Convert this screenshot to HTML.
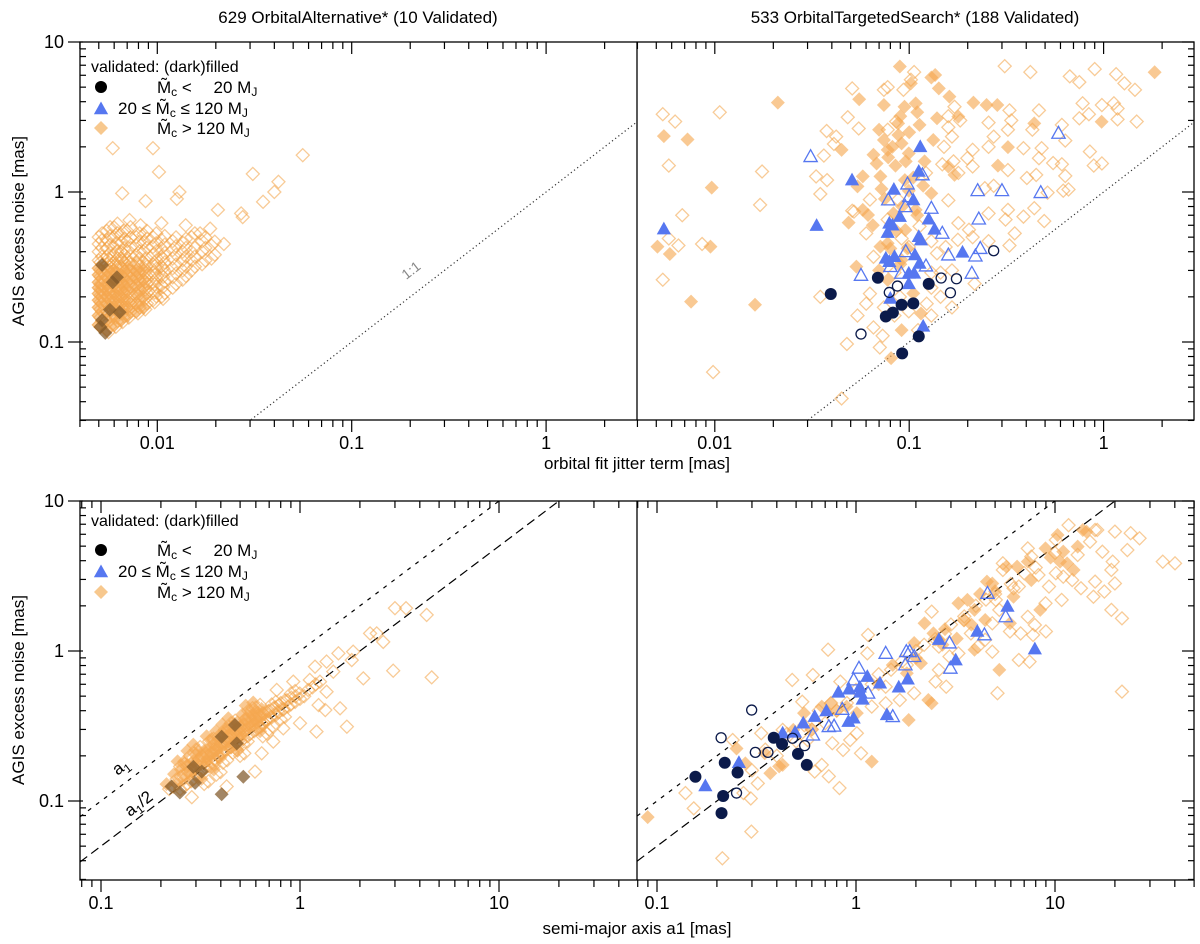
<!DOCTYPE html>
<html><head><meta charset="utf-8"><title>AGIS excess noise vs orbital parameters</title>
<style>
body{margin:0;background:#fff;}
svg{display:block;font-family:"Liberation Sans",Arial,sans-serif;}
</style></head>
<body>
<svg id="fig" width="1200" height="944" viewBox="0 0 1200 944" xmlns="http://www.w3.org/2000/svg">
<defs>
<clipPath id="clipTL"><rect x="80" y="42" width="557" height="378"/></clipPath>
<clipPath id="clipTR"><rect x="637" y="42" width="557" height="378"/></clipPath>
<clipPath id="clipBL"><rect x="80" y="501" width="557" height="379"/></clipPath>
<clipPath id="clipBR"><rect x="637" y="501" width="557" height="379"/></clipPath>
</defs>
<g id="axes"></g>
<g id="marks"></g>
<g id="texts">
<text x="358" y="23" font-size="17" text-anchor="middle">629 OrbitalAlternative* (10 Validated)</text>
<text x="915" y="23" font-size="17" text-anchor="middle">533 OrbitalTargetedSearch* (188 Validated)</text>
<text x="637" y="469" font-size="17" text-anchor="middle">orbital fit jitter term [mas]</text>
<text x="637" y="934" font-size="17" text-anchor="middle">semi-major axis a1 [mas]</text>
<text x="0" y="0" font-size="17" text-anchor="middle" transform="translate(24,231) rotate(-90)">AGIS excess noise  [mas]</text>
<text x="0" y="0" font-size="17" text-anchor="middle" transform="translate(24,690) rotate(-90)">AGIS excess noise  [mas]</text>
<text x="0" y="0" font-size="14" fill="#888" text-anchor="middle" transform="translate(414,274) rotate(-37.7)">1:1</text>
<text x="0" y="0" font-size="17" text-anchor="middle" transform="translate(124,771) rotate(-37)">a<tspan font-size="12" dy="4">1</tspan></text>
<text x="0" y="0" font-size="17" text-anchor="middle" transform="translate(142,808) rotate(-37)">a<tspan font-size="12" dy="4">1</tspan><tspan dy="-4">/2</tspan></text>
</g>
</svg>
<script>
// ---------------- DATA ----------------
const tlCloudX = [0.005,0.0055,0.006,0.0065,0.007,0.0078,0.0085,0.0095,0.0105,0.012,0.0135,0.015,0.017,0.019];
const tlCloudY = [
 [.13,.15,.17,.19,.21,.23,.25,.28,.31,.35,.40,.45,.50],
 [.12,.14,.16,.18,.20,.22,.24,.27,.30,.33,.37,.42,.48,.55],
 [.13,.15,.17,.19,.21,.24,.27,.30,.34,.38,.43,.50,.58],
 [.14,.16,.18,.20,.22,.25,.28,.32,.36,.40,.46,.52],
 [.15,.17,.19,.22,.25,.28,.31,.35,.40,.47,.55],
 [.16,.18,.21,.24,.27,.30,.34,.38,.44,.50],
 [.17,.20,.23,.26,.30,.34,.40,.46,.52],
 [.19,.22,.25,.29,.33,.38,.43,.50],
 [.20,.24,.28,.32,.37,.42,.48],
 [.23,.27,.31,.36,.41,.47],
 [.26,.30,.35,.40,.46],
 [.30,.35,.40,.50],
 [.33,.40,.47],
 [.36,.44]
];
const tlOpen = [[0.0059,1.96],[0.0095,1.96],[0.0102,1.36],[0.056,1.76],[0.031,1.32],[0.042,1.17],[0.04,1.0],[0.035,0.86],[0.013,1.0],[0.0126,0.9],[0.0066,0.98],[0.0087,0.87],[0.0205,0.76],[0.027,0.72],[0.0275,0.68],[0.022,0.45],[0.0187,0.57],[0.0166,0.53],[0.0072,0.65],[0.0105,0.62],[0.014,0.6],[0.0082,0.6]];
const tlDark = [[0.0052,0.326],[0.0062,0.27],[0.0059,0.25],[0.0057,0.164],[0.0064,0.158],[0.0052,0.14],[0.0051,0.126],[0.0054,0.115]];

const trCircleFilled = [[0.0395,0.209],[0.069,0.268],[0.0758,0.148],[0.0824,0.157],[0.0914,0.177],[0.105,0.181],[0.126,0.244],[0.112,0.109],[0.092,0.084]];
const trCircleOpen = [[0.0565,0.113],[0.079,0.214],[0.087,0.236],[0.146,0.267],[0.175,0.264],[0.163,0.213],[0.272,0.406]];
const trTriFilled = [[0.00547,0.566],[0.0334,0.597],[0.0508,1.2],[0.0834,1.04],[0.114,2.0],[0.112,1.37],[0.105,0.885],[0.079,0.618],[0.082,0.6],[0.0895,0.685],[0.126,0.658],[0.135,0.563],[0.112,0.503],[0.115,0.478],[0.0775,0.536],[0.0758,0.361],[0.084,0.37],[0.107,0.38],[0.113,0.334],[0.079,0.343],[0.0995,0.287],[0.106,0.287],[0.0995,0.244],[0.188,0.396],[0.118,0.127],[0.08,0.195]];
const trTriOpen = [[0.0311,1.72],[0.098,1.13],[0.1,0.93],[0.078,0.885],[0.0955,0.798],[0.13,0.778],[0.117,1.3],[0.225,1.02],[0.3,1.02],[0.475,0.99],[0.586,2.46],[0.228,0.66],[0.148,0.53],[0.159,0.38],[0.232,0.42],[0.219,0.374],[0.096,0.4],[0.122,0.321],[0.0565,0.278],[0.091,0.287],[0.21,0.287],[0.08,0.318]];
const trDiamFilled = [[0.00547,2.36],[0.00724,2.24],[0.0211,3.94],[0.00964,1.07],[0.00507,0.432],[0.00587,0.386],[0.0095,0.432],[0.00755,0.186],[0.0161,0.177],[1.83,6.28],[0.977,2.94],[0.322,1.99],[0.286,1.5],[0.214,3.94],[0.25,3.8],[0.284,3.8],[0.44,2.87],[0.0553,4.15],[0.0741,3.8],[0.0895,6.86],[0.136,6.03],[0.13,5.8],[0.142,4.91],[0.161,4.32],[0.179,3.18],[0.139,3.1],[0.102,5.3],[0.108,3.9],[0.0946,3.7],[0.113,2.8],[0.0877,2.87],[0.0741,2.22],[0.0914,2.11],[0.0995,1.81],[0.0775,1.91],[0.0655,1.77],[0.0711,1.27],[0.0577,1.27],[0.0542,1.09],[0.133,2.22],[0.171,1.3],[0.0449,1.91],[0.0488,0.625],[0.0577,0.76],[0.0614,0.703],[0.13,0.98],[0.108,0.76],[0.0775,0.455],[0.0955,0.558],[0.0914,0.352],[0.0711,0.432],[0.0535,0.318],[0.0914,0.12],[0.0807,0.078],[0.105,0.211],[0.115,0.155],[0.0775,0.259],[0.0995,1.02],[0.159,1.48],[0.085,1.5],[0.095,1.2],[0.075,0.9],[0.11,0.7],[0.065,0.6],[0.12,1.6],[0.1,2.5],[0.08,0.42],[0.09,0.33],[0.07,0.3],[0.082,2.0],[0.068,1.55],[0.092,0.8],[0.118,1.1],[0.078,1.7],[0.088,2.4],[0.072,1.05],[0.096,1.6],[0.105,1.25],[0.083,0.72],[0.09,3.2],[0.11,3.4],[0.07,2.6],[0.086,0.55],[0.098,0.42]];
const trDiamOpen = [[0.0054,3.3],[0.00625,2.95],[0.0106,3.4],[0.0058,1.5],[0.0175,1.37],[0.0171,0.82],[0.0068,0.70],[0.0058,0.49],[0.0065,0.44],[0.0086,0.45],[0.0054,0.26],[0.0098,0.063],[0.0449,0.042],[0.0349,0.2],[0.0478,0.097],[0.0706,0.092],[0.0542,0.15],[0.0655,0.125],[0.073,0.11],[0.0509,4.9],[0.0483,3.15],[0.055,2.65],[0.0376,2.55],[0.0421,2.34],[0.041,2.09],[0.0364,1.75],[0.0332,1.27],[0.0378,1.2],[0.0349,0.97],[0.0509,0.75],[0.31,6.9],[0.42,6.3],[0.67,5.9],[0.75,5.4],[0.9,6.6],[1.16,6.1],[1.28,5.3],[1.45,4.8],[0.78,3.9],[0.98,3.8],[1.13,3.9],[1.18,3.6],[0.84,3.3],[0.75,3.1],[1.18,3.05],[1.48,2.95],[0.465,3.5],[0.328,3.5],[0.335,3.0],[0.256,2.9],[0.322,2.6],[0.43,2.6],[0.61,2.8],[0.635,2.2],[0.48,1.96],[0.85,1.86],[0.387,1.96],[0.212,1.91],[0.256,2.0],[0.272,2.34],[0.465,1.68],[0.55,1.56],[0.61,1.53],[0.89,1.5],[0.98,1.55],[0.403,1.24],[0.45,1.3],[0.635,1.28],[0.322,1.4],[0.272,1.1],[0.245,1.06],[0.515,0.99],[0.62,1.02],[0.66,1.04],[0.322,0.76],[0.44,0.78],[0.387,0.685],[0.495,0.64],[0.313,0.655],[0.256,0.72],[0.349,0.53],[0.328,0.44],[0.256,0.47],[0.212,0.5],[0.159,0.88],[0.179,0.62],[0.203,0.56],[0.178,0.48],[0.154,0.43],[0.166,0.30],[0.217,0.245],[0.145,0.2],[0.123,0.18],[0.166,0.17],[0.13,0.15],[0.179,1.34],[0.199,1.68],[0.212,1.48],[0.169,1.6],[0.148,1.53],[0.151,2.0],[0.166,2.34],[0.183,3.0],[0.159,2.7],[0.171,3.7],[0.159,3.2],[0.0775,5.0],[0.0741,4.8],[0.0934,4.8],[0.106,6.3],[0.102,5.6],[0.0857,2.95],[0.0775,2.6],[0.122,1.34],[0.052,0.74],[0.0628,0.89],[0.0877,0.89],[0.0775,0.655],[0.0601,0.53],[0.0914,0.49],[0.13,0.47],[0.139,0.39],[0.13,0.29],[0.0995,0.43],[0.113,0.59],[0.0655,0.37],[0.084,0.29],[0.0628,0.21],[0.0741,0.17],[0.0995,0.16],[0.084,0.15],[0.111,0.12],[0.0601,0.18],[0.0895,0.2],[0.13,0.23],[0.145,0.29]];

const blCloud = [[0.22,0.12],[0.24,0.14],[0.25,0.12],[0.26,0.15],[0.27,0.13],[0.28,0.16],[0.29,0.14],[0.3,0.17],[0.3,0.15],[0.31,0.19],[0.32,0.16],[0.33,0.18],[0.34,0.2],[0.35,0.17],[0.36,0.21],[0.37,0.19],[0.38,0.22],[0.39,0.2],[0.4,0.24],[0.4,0.21],[0.41,0.18],[0.42,0.25],[0.43,0.22],[0.44,0.27],[0.45,0.23],[0.46,0.26],[0.47,0.29],[0.48,0.24],[0.5,0.28],[0.5,0.31],[0.52,0.26],[0.53,0.3],[0.55,0.33],[0.56,0.28],[0.58,0.32],[0.6,0.35],[0.6,0.3],[0.62,0.37],[0.64,0.33],[0.66,0.38],[0.68,0.35],[0.7,0.4],[0.72,0.36],[0.75,0.42],[0.78,0.39],[0.8,0.45],[0.83,0.41],[0.86,0.47],[0.9,0.44],[0.95,0.5],[1.0,0.48],[0.35,0.25],[0.3,0.22],[0.45,0.33],[0.55,0.4],[0.38,0.15],[0.5,0.2],[0.65,0.27],[0.28,0.2],[0.33,0.13],[0.25,0.17],[0.42,0.3],[0.6,0.42],[0.7,0.3],[0.8,0.35],[0.32,0.2],[0.37,0.24],[0.43,0.27],[0.48,0.3],[0.53,0.35],[0.58,0.37],[0.27,0.17],[0.36,0.18],[0.46,0.21],[0.39,0.27],[0.52,0.24],[0.62,0.31],[0.72,0.44],[0.9,0.52],[1.1,0.55],[1.2,0.6]];
const blOpen = [[3.0,1.93],[3.41,1.93],[4.33,1.74],[2.25,1.31],[2.43,1.31],[2.62,1.15],[1.85,0.99],[1.56,0.965],[1.82,0.87],[1.36,0.85],[1.47,0.728],[1.19,0.786],[2.08,0.657],[2.94,0.739],[4.59,0.667],[1.36,0.535],[1.59,0.415],[1.34,0.404],[1.24,0.436],[1.72,0.313],[1.21,0.29],[1.0,0.33],[0.824,0.305],[0.734,0.249],[0.642,0.208],[0.594,0.157],[0.428,0.125],[0.286,0.106],[1.12,0.641],[0.925,0.625],[0.764,0.55]];
const blDark = [[0.471,0.321],[0.404,0.268],[0.481,0.242],[0.291,0.169],[0.321,0.157],[0.297,0.132],[0.226,0.125],[0.249,0.114],[0.519,0.145],[0.404,0.111]];

const brCircleFilled = [[0.156,0.145],[0.219,0.18],[0.254,0.155],[0.215,0.108],[0.211,0.083],[0.386,0.264],[0.425,0.24],[0.511,0.206],[0.566,0.174]];
const brCircleOpen = [[0.299,0.404],[0.21,0.264],[0.312,0.211],[0.361,0.211],[0.48,0.262],[0.552,0.234],[0.251,0.113]];
const brTriFilled = [[0.175,0.126],[0.258,0.18],[0.428,0.283],[0.494,0.287],[0.543,0.33],[0.62,0.365],[0.71,0.398],[0.816,0.53],[0.923,0.556],[1.045,0.573],[1.08,0.476],[1.14,0.675],[1.32,0.61],[1.64,0.573],[1.82,0.648],[0.916,0.338],[0.973,0.356],[1.43,0.375],[2.61,1.19],[4.07,1.35],[5.77,1.98],[7.92,1.03],[3.17,0.87],[1.05,0.53]];
const brTriOpen = [[1.035,0.767],[0.973,0.641],[1.41,0.964],[1.79,0.99],[1.86,0.99],[1.96,0.918],[1.77,0.807],[2.95,1.13],[2.98,0.767],[4.42,1.28],[4.58,2.42],[5.65,1.69],[1.53,0.365],[0.73,0.313],[0.776,0.315],[0.853,0.408],[1.15,0.523],[0.607,0.275]];
const brDiamFilled = [[0.0898,0.078],[0.251,0.224],[0.278,0.178],[0.371,0.153],[0.411,0.17],[0.428,0.174],[0.548,0.385],[0.673,0.426],[0.745,0.448],[0.897,0.426],[1.01,0.385],[1.2,0.183],[1.84,0.347],[2.31,0.471],[2.4,0.448],[1.53,0.807],[1.8,0.71],[2.12,0.828],[1.96,1.13],[2.21,1.53],[2.45,1.31],[2.72,1.1],[3.27,2.08],[3.63,2.19],[3.94,1.88],[4.55,2.9],[4.84,2.82],[5.25,0.748],[6.19,2.3],[7.6,2.97],[8.43,1.88],[8.96,4.83],[10.3,5.93],[10.6,3.94],[11.5,3.84],[13.0,4.96],[13.8,6.41],[14.4,6.25],[5.7,3.65],[6.45,3.65],[7.3,3.94],[12.4,3.47],[3.94,1.02],[3.21,1.21],[4.46,1.61],[5.94,1.53],[0.484,0.298],[0.348,0.208],[0.6,0.3],[0.8,0.4],[1.3,0.6],[2.0,0.9],[2.8,1.4],[3.5,1.6],[5.0,2.5],[4.2,2.4],[9.5,4.2],[11.0,4.6],[3.8,1.5],[2.6,1.2]];
const brDiamOpen = [[0.139,0.113],[0.153,0.0893],[0.213,0.0415],[0.298,0.0625],[0.296,0.104],[0.478,0.641],[0.607,0.692],[0.537,0.459],[0.724,1.02],[0.834,0.625],[1.15,1.28],[1.14,0.964],[1.2,0.426],[1.41,0.578],[2.4,1.83],[2.51,0.625],[2.61,0.748],[2.84,0.578],[5.14,0.523],[7.45,0.849],[6.58,0.871],[21.7,0.536],[34.8,3.94],[40.1,3.84],[20.0,6.25],[24.0,6.1],[26.6,5.64],[15.0,5.35],[15.9,6.41],[17.3,4.59],[23.1,4.71],[19.5,3.94],[19.2,3.47],[13.5,2.62],[17.7,2.49],[20.0,2.82],[15.9,2.9],[15.6,2.3],[10.8,2.19],[8.96,2.08],[12.2,2.97],[19.2,1.88],[21.7,1.65],[9.0,1.35],[7.76,1.28],[6.72,1.31],[5.94,1.35],[7.92,1.49],[7.3,1.69],[9.33,2.69],[7.3,4.83],[11.0,3.13],[8.26,3.21],[5.47,3.47],[6.19,2.62],[4.84,1.53],[3.78,1.31],[4.46,1.19],[4.84,0.99],[3.27,0.964],[4.1,1.07],[2.95,0.918],[1.8,0.807],[1.66,0.471],[1.41,0.448],[1.01,0.283],[0.935,0.255],[0.861,0.219],[1.06,0.208],[0.673,0.174],[0.73,0.146],[0.62,0.157],[0.826,0.122],[0.321,0.131],[0.272,0.113],[0.24,0.255],[0.334,0.283],[0.428,0.298],[0.571,0.255],[0.76,0.243],[1.96,0.523],[2.61,1.07],[3.48,1.61],[5.04,2.19],[6.58,2.69],[5.25,1.88],[10.1,3.3],[13.0,4.37],[10.1,5.5],[11.7,6.9],[16.3,6.41],[5.47,3.84],[7.6,4.26],[0.3,0.16],[0.4,0.2],[0.5,0.25],[0.6,0.3],[0.7,0.33],[0.8,0.4],[0.9,0.45],[1.2,0.6],[1.5,0.75],[2.0,1.0],[2.5,1.2],[3.0,1.5],[4.0,2.0],[5.0,2.4],[6.0,2.8],[8.0,3.6],[0.35,0.22],[0.45,0.28],[0.55,0.32],[0.65,0.4],[0.75,0.45],[1.0,0.55],[1.3,0.7],[1.7,0.85],[2.2,1.1],[2.8,1.3],[3.5,1.7],[4.5,2.2],[7.0,3.3],[10.0,4.5]];

const topXTickVals = [0.01,0.1,1];
const topXTickLabels = ["0.01","0.1","1"];
const botXTickVals = [0.1,1,10];
const botXTickLabels = ["0.1","1","10"];
const yTickVals = [0.1,1,10];
const yTickLabels = ["0.1","1","10"];

// ---------------- SCALES ----------------
const NS = "http://www.w3.org/2000/svg";
const L = Math.log10;
const panels = {
  TL:{x0:157.3, xd:194.4, xo:-2, y0:192, yd:150, left:80, right:637, top:42, bottom:420, clip:"clipTL"},
  TR:{x0:714.8, xd:194.4, xo:-2, y0:192, yd:150, left:637, right:1194, top:42, bottom:420, clip:"clipTR"},
  BL:{x0:300, xd:199, xo:0, y0:651, yd:150, left:80, right:637, top:501, bottom:880, clip:"clipBL"},
  BR:{x0:856, xd:199, xo:0, y0:651, yd:150, left:637, right:1194, top:501, bottom:880, clip:"clipBR"}
};
function sx(p,v){ return p.x0 + (L(v)-p.xo)*p.xd; }
function sy(p,v){ return p.y0 - L(v)*p.yd; }
function invx(p,px){ return Math.pow(10,(px-p.x0)/p.xd + p.xo); }

const axesG = document.getElementById('axes');
const marksG = document.getElementById('marks');
function mk(tag, attrs, parent){
  const e = document.createElementNS(NS, tag);
  for (const k in attrs) e.setAttribute(k, attrs[k]);
  parent.appendChild(e); return e;
}

function drawFrame(name, top, bottom){
  const f = mk('rect',{x:80,y:top,width:1114,height:bottom-top,fill:'none',stroke:'#000','stroke-width':1.3}, axesG);
  
  
  const d = mk('line',{x1:637,y1:top,x2:637,y2:bottom,stroke:'#000','stroke-width':1.3}, axesG);
  
  
}
drawFrame('top', 42, 420);
drawFrame('bottom', 501, 880);

function xTicks(p, name, majors, labels, lo, hi){
  for (let e=Math.floor(L(lo)); e<=Math.ceil(L(hi)); e++){
    for (let m=1;m<10;m++){
      const v = m*Math.pow(10,e);
      const x = sx(p,v);
      if (x < p.left-0.5 || x > p.right+0.5) continue;
      const len = (m===1)?12:7;
      const t = mk('line',{x1:x,y1:p.bottom,x2:x,y2:p.bottom+len,stroke:'#000','stroke-width':1.2}, axesG);
      
      
      const t2 = mk('line',{x1:x,y1:p.top,x2:x,y2:p.top+len,stroke:'#000','stroke-width':1.2}, axesG);
      
      
    }
  }
  majors.forEach((v,i)=>{
    const tx = mk('text',{x:sx(p,v),y:p.bottom+29,'font-size':18,'text-anchor':'middle'}, axesG);
    tx.textContent = labels[i];
    
    
  });
}
function yTicks(p, name){
  for (let e=-2;e<=1;e++){
    for (let m=1;m<10;m++){
      const v = m*Math.pow(10,e);
      const y = sy(p,v);
      if (y < p.top-0.5 || y > p.bottom+0.5) continue;
      const len = (m===1)?12:6;
      const t = mk('line',{x1:(m===1?68:80),y1:y,x2:80+len-(m===1?9:0),y2:y,stroke:'#000','stroke-width':1.2}, axesG);
      
      
      const t2 = mk('line',{x1:1194-len,y1:y,x2:1194,y2:y,stroke:'#000','stroke-width':1.2}, axesG);
      
      
    }
  }
  yTickVals.forEach((v,i)=>{
    const tx = mk('text',{x:64,y:sy(p,v)+6,'font-size':18,'text-anchor':'end'}, axesG);
    tx.textContent = yTickLabels[i];
    
    
  });
}
xTicks(panels.TL,'top-left',topXTickVals,topXTickLabels,0.003,4);
xTicks(panels.TR,'top-right',topXTickVals,topXTickLabels,0.003,4);
xTicks(panels.BL,'bottom-left',botXTickVals,botXTickLabels,0.05,60);
xTicks(panels.BR,'bottom-right',botXTickVals,botXTickLabels,0.05,60);
yTicks(panels.TL,'top');
yTicks(panels.BL,'bottom');

function refLine(p, factor, dash, color, name){
  const xa = invx(p,p.left), xb = invx(p,p.right);
  const ln = mk('line',{x1:sx(p,xa),y1:sy(p,xa*factor),x2:sx(p,xb),y2:sy(p,xb*factor),stroke:color,'stroke-width':1.2,'stroke-dasharray':dash,'clip-path':'url(#'+p.clip+')'}, axesG);
  
  
}
refLine(panels.TL,1,'1.2,2.8','#333','one-to-one-line-left');
refLine(panels.TR,1,'1.2,2.8','#333','one-to-one-line-right');
refLine(panels.BL,1,'4,6','#000','a1-line-left');
refLine(panels.BR,1,'4,6','#000','a1-line-right');
refLine(panels.BL,0.5,'9,5','#000','a1-half-line-left');
refLine(panels.BR,0.5,'9,5','#000','a1-half-line-right');

// ---------------- MARKERS ----------------
const OPEN_OR = 'rgba(243,160,66,0.55)';
const FILL_OR = 'rgba(245,168,80,0.62)';
const DARK_OR = 'rgba(128,88,40,0.72)';
const BLUE = '#5677f0';
const NAVY = '#0b1a4a';
function group(p, name){
  const g = mk('g',{'clip-path':'url(#'+p.clip+')'}, marksG);
  
  
  return g;
}
function diamond(g,x,y,s,fill,stroke){
  return mk('path',{d:`M${x},${y-s}L${x+s},${y}L${x},${y+s}L${x-s},${y}Z`,fill:fill,stroke:stroke,'stroke-width':1.3},g);
}
function tri(g,x,y,s,fill,stroke){
  return mk('path',{d:`M${x},${y-s}L${x+s*0.95},${y+s*0.7}L${x-s*0.95},${y+s*0.7}Z`,fill:fill,stroke:stroke,'stroke-width':1.3},g);
}
function plot(p, pts, kind, gname, markName){
  const g = group(p, gname);
  pts.forEach(pt=>{
    const x = sx(p,pt[0]), y = sy(p,pt[1]);
    let e;
    if (kind==='dOpen') e = diamond(g,x,y,6.5,'none',OPEN_OR);
    else if (kind==='dFill') e = diamond(g,x,y,7,FILL_OR,'none');
    else if (kind==='dDark') e = diamond(g,x,y,7,DARK_OR,'none');
    else if (kind==='tFill') e = tri(g,x,y,7.5,BLUE,'none');
    else if (kind==='tOpen') e = tri(g,x,y,7,'none',BLUE);
    else if (kind==='cFill') e = mk('circle',{cx:x,cy:y,r:6,fill:NAVY},g);
    else if (kind==='cOpen') e = mk('circle',{cx:x,cy:y,r:5,fill:'none',stroke:NAVY,'stroke-width':1.3},g);
    
    
  });
}
// top-left: dense cloud (overlapping copies reproduce the saturated blob)
const tlCloudPts = [];
tlCloudX.forEach((xv,i)=>tlCloudY[i].forEach(yv=>tlCloudPts.push([xv,yv])));
plot(panels.TL, tlCloudPts, 'dOpen', 'top-left-cloud', 'point-unvalidated');
plot(panels.TL, tlCloudPts.map(p=>[p[0]*1.04,p[1]*1.06]), 'dOpen', 'top-left-cloud-2', 'point-unvalidated');
plot(panels.TL, tlCloudPts.filter(p=>p[0]<0.011&&p[1]<0.38).map(p=>[p[0]*1.02,p[1]*0.97]), 'dOpen', 'top-left-cloud-3', 'point-unvalidated');
plot(panels.TL, tlCloudPts.filter(p=>p[0]<0.009&&p[1]<0.32), 'dFill', 'top-left-cloud-core', 'point-unvalidated');
plot(panels.TL, tlOpen, 'dOpen', 'top-left-open', 'point-unvalidated');
plot(panels.TL, tlDark, 'dDark', 'top-left-validated', 'point-validated');
// top-right
plot(panels.TR, trDiamOpen, 'dOpen', 'top-right-open-diamonds', 'point-unvalidated');
plot(panels.TR, trDiamFilled, 'dFill', 'top-right-filled-diamonds', 'point-validated');
plot(panels.TR, trTriOpen, 'tOpen', 'top-right-open-triangles', 'point-unvalidated-bd');
plot(panels.TR, trTriFilled, 'tFill', 'top-right-filled-triangles', 'point-validated-bd');
plot(panels.TR, trCircleOpen, 'cOpen', 'top-right-open-circles', 'point-unvalidated-planet');
plot(panels.TR, trCircleFilled, 'cFill', 'top-right-filled-circles', 'point-validated-planet');
// bottom-left
plot(panels.BL, blCloud, 'dOpen', 'bottom-left-cloud', 'point-unvalidated');
plot(panels.BL, blCloud.map(p=>[p[0]*1.05,p[1]*1.04]), 'dOpen', 'bottom-left-cloud-2', 'point-unvalidated');
plot(panels.BL, blCloud.filter(p=>p[0]<0.7).map(p=>[p[0]*0.97,p[1]*1.08]), 'dFill', 'bottom-left-cloud-core', 'point-unvalidated');
plot(panels.BL, blOpen, 'dOpen', 'bottom-left-open', 'point-unvalidated');
plot(panels.BL, blDark, 'dDark', 'bottom-left-validated', 'point-validated');
// bottom-right
plot(panels.BR, brDiamOpen, 'dOpen', 'bottom-right-open-diamonds', 'point-unvalidated');
plot(panels.BR, brDiamFilled, 'dFill', 'bottom-right-filled-diamonds', 'point-validated');
plot(panels.BR, brTriOpen, 'tOpen', 'bottom-right-open-triangles', 'point-unvalidated-bd');
plot(panels.BR, brTriFilled, 'tFill', 'bottom-right-filled-triangles', 'point-validated-bd');
plot(panels.BR, brCircleOpen, 'cOpen', 'bottom-right-open-circles', 'point-unvalidated-planet');
plot(panels.BR, brCircleFilled, 'cFill', 'bottom-right-filled-circles', 'point-validated-planet');

// ---------------- LEGENDS ----------------
function legend(name, yHead, yRows){
  const g = mk('g',{}, marksG);
  
  
  const h = mk('text',{x:91,y:yHead+6,'font-size':16},g);
  h.textContent = 'validated: (dark)filled';
  
  
  const c = mk('circle',{cx:101,cy:yRows[0],r:6,fill:'#000'},g);
  
  
  const t = tri(g,101,yRows[1]+1,7.5,BLUE,'none');
  
  
  const d = diamond(g,101,yRows[2],7,'#f7c88e','none');
  
  
  const rows = [
    [157,'M\u0303','<\u2002\u2002 20 M'],
    [118,'20 \u2264 M\u0303','\u2264 120 M'],
    [157,'M\u0303','> 120 M']
  ];
  rows.forEach((r,i)=>{
    const tx = mk('text',{x:r[0],y:yRows[i]+6,'font-size':17},g);
    
    
    const a = document.createElementNS(NS,'tspan'); a.textContent = r[1]; tx.appendChild(a);
    const b = document.createElementNS(NS,'tspan'); b.textContent = 'c'; b.setAttribute('font-size','12'); b.setAttribute('dy','3'); tx.appendChild(b);
    const cc = document.createElementNS(NS,'tspan'); cc.textContent = ' '+r[2]; cc.setAttribute('dy','-3'); tx.appendChild(cc);
    const dd = document.createElementNS(NS,'tspan'); dd.textContent = 'J'; dd.setAttribute('font-size','12'); dd.setAttribute('dy','3'); tx.appendChild(dd);
  });
}
legend('top-legend', 66, [87,108,128]);
legend('bottom-legend', 520, [550,571,592]);
</script>
</body></html>
